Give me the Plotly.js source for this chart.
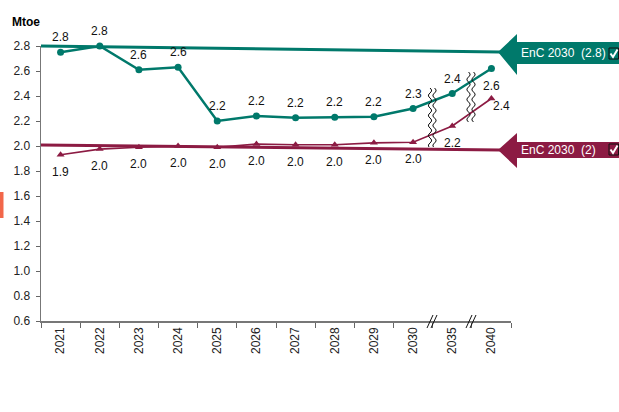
<!DOCTYPE html>
<html>
<head>
<meta charset="utf-8">
<script src="https://cdn.plot.ly/plotly-3.0.1.min.js"></script>
<style>html,body{margin:0;padding:0;background:#fff;}</style>
</head>
<body>
<div id="chart" style="width:619px;height:412px;"></div>
<script>
const years = ['2021','2022','2023','2024','2025','2026','2027','2028','2029','2030','2035','2040'];
const greenValues = [2.75, 2.80, 2.61, 2.63, 2.20, 2.24, 2.225, 2.23, 2.235, 2.30, 2.42, 2.62];
const redValues = [1.93, 1.975, 1.99, 2.00, 1.99, 2.015, 2.01, 2.01, 2.025, 2.03, 2.16, 2.38];
const targetValues = [2.8, 2.0];
const targetLabels = ['EnC 2030  (2.8)', 'EnC 2030  (2)'];
const yTitle = 'Mtoe';

const GREEN = '#00796B';
const RED = '#8C1B43';
const FONT = 'Liberation Sans, Arial, sans-serif';
const W = 619, H = 412;
const L = 41, R = 108, T = 46, B = 91;
const PW = W - L - R, PH = H - T - B;
const px = x => (x - L) / PW;          // pixel -> paper x
const py = y => (H - B - y) / PH;      // pixel -> paper y

const traces = [
  {
    x: years, y: greenValues, type: 'scatter', mode: 'lines+markers',
    line: {color: GREEN, width: 2.5}, marker: {color: GREEN, size: 7, symbol: 'circle'},
    cliponaxis: false, hoverinfo: 'none'
  },
  {
    x: years, y: redValues, type: 'scatter', mode: 'lines+markers',
    line: {color: RED, width: 1.6}, marker: {color: RED, size: 7, symbol: 'triangle-up'},
    cliponaxis: false, hoverinfo: 'none'
  }
];

const shapes = [];
const annotations = [];

// data labels (x given as category index)
const last = years.length - 1;
years.forEach((yr, i) => {
  annotations.push({x: i, y: greenValues[i], xref: 'x', yref: 'y', text: greenValues[i].toFixed(1), showarrow: false,
    xanchor: 'center', yanchor: 'middle', yshift: i === last ? -17 : 15,
    font: {family: FONT, size: 12, color: '#111'}});
  annotations.push({x: i, y: redValues[i], xref: 'x', yref: 'y', text: redValues[i].toFixed(1), showarrow: false,
    xanchor: 'center', yanchor: 'middle', xshift: i === last ? 10 : 0, yshift: i === last ? -7 : -17,
    font: {family: FONT, size: 12, color: '#111'}});
});

const colors = [GREEN, RED];
const geo = [
  {line0: 46, tip: 52, hTop: 34, hBot: 75, bTop: 42, bBot: 64, cTop: 48, cBot: 59},
  {line0: 145, tip: 150, hTop: 133, hBot: 168, bTop: 142, bBot: 158, cTop: 144, cBot: 155}
];
targetValues.forEach((t, k) => {
  const g = geo[k], c = colors[k];
  shapes.push({type: 'line', xref: 'paper', yref: 'paper', x0: px(41), y0: py(g.line0), x1: px(500), y1: py(g.tip),
    line: {color: c, width: 3}});
  const path = `M ${px(498)},${py(g.tip)} L ${px(517)},${py(g.hTop)} L ${px(517)},${py(g.bTop)} L ${px(620)},${py(g.bTop)} ` +
    `L ${px(620)},${py(g.bBot)} L ${px(517)},${py(g.bBot)} L ${px(517)},${py(g.hBot)} Z`;
  shapes.push({type: 'path', xref: 'paper', yref: 'paper', path: path, fillcolor: c, line: {width: 0}});
  shapes.push({type: 'rect', xref: 'paper', yref: 'paper', x0: px(609), x1: px(618.5), y0: py(g.cBot), y1: py(g.cTop),
    fillcolor: c, line: {color: '#111', width: 1}});
  const cm = (g.cTop + g.cBot) / 2;
  shapes.push({type: 'path', xref: 'paper', yref: 'paper',
    path: `M ${px(610.5)},${py(cm)} L ${px(613)},${py(cm + 3.5)} L ${px(617.5)},${py(cm - 4)}`,
    line: {color: '#fff', width: 2}});
  annotations.push({xref: 'paper', yref: 'paper', x: px(519), y: py((g.bTop + g.bBot) / 2), xanchor: 'left', yanchor: 'middle',
    text: targetLabels[k], showarrow: false, font: {family: FONT, size: 12, color: '#fff'}});
});

// wavy break lines
function wave(x, y0, y1) {
  let d = `M ${px(x)},${py(y0)}`;
  for (let y = y0; y <= y1; y += 1) {
    const xx = x + 1.6 * Math.sin((y - y0) / 10 * 2 * Math.PI);
    d += ` L ${px(xx)},${py(y)}`;
  }
  return d;
}
[[430, 88, 147], [434.5, 88, 147], [468.5, 72, 122], [473.5, 72, 122]].forEach(w => {
  shapes.push({type: 'path', xref: 'paper', yref: 'paper', path: wave(w[0], w[1], w[2]), line: {color: '#111', width: 1}});
});
// axis break marks
[[427, 433], [431, 437], [466, 472], [470, 476]].forEach(m => {
  shapes.push({type: 'line', xref: 'paper', yref: 'paper', x0: px(m[0]), y0: py(328), x1: px(m[1]), y1: py(315),
    line: {color: '#111', width: 1}});
});
// small orange mark at left edge
shapes.push({type: 'rect', xref: 'paper', yref: 'paper', x0: px(0), x1: px(3.5), y0: py(218), y1: py(192),
  fillcolor: '#F2674A', line: {width: 0}});

annotations.push({xref: 'paper', yref: 'paper', x: px(10), y: py(22), xanchor: 'left', yanchor: 'middle',
  text: '<b>' + yTitle + '</b>', showarrow: false, font: {family: FONT, size: 12, color: '#000'}});

const layout = {
  width: W, height: H,
  margin: {l: L, r: R, t: T, b: B, pad: 0},
  paper_bgcolor: '#fff', plot_bgcolor: '#fff',
  showlegend: false,
  font: {family: FONT, size: 12, color: '#222'},
  xaxis: {
    type: 'category', range: [-0.5, years.length - 0.5], autorange: false,
    tickangle: -90, tickson: 'boundaries', ticks: 'outside', ticklen: 5,
    tickcolor: '#666', showline: true, linecolor: '#777', linewidth: 1.5, showgrid: false, zeroline: false,
    tickfont: {size: 12, color: '#222'}, fixedrange: true
  },
  yaxis: {
    range: [0.6, 2.8], autorange: false, dtick: 0.2, tick0: 0.6, tickformat: '.1f', ticks: 'outside', ticklen: 4,
    ticklabelstandoff: 3,
    tickcolor: '#666', showline: true, linecolor: '#777', linewidth: 1.5, showgrid: false, zeroline: false,
    tickfont: {size: 12, color: '#222'}, fixedrange: true
  },
  shapes: shapes,
  annotations: annotations
};

Plotly.newPlot('chart', traces, layout, {displayModeBar: false, staticPlot: true});
</script>
</body>
</html>
